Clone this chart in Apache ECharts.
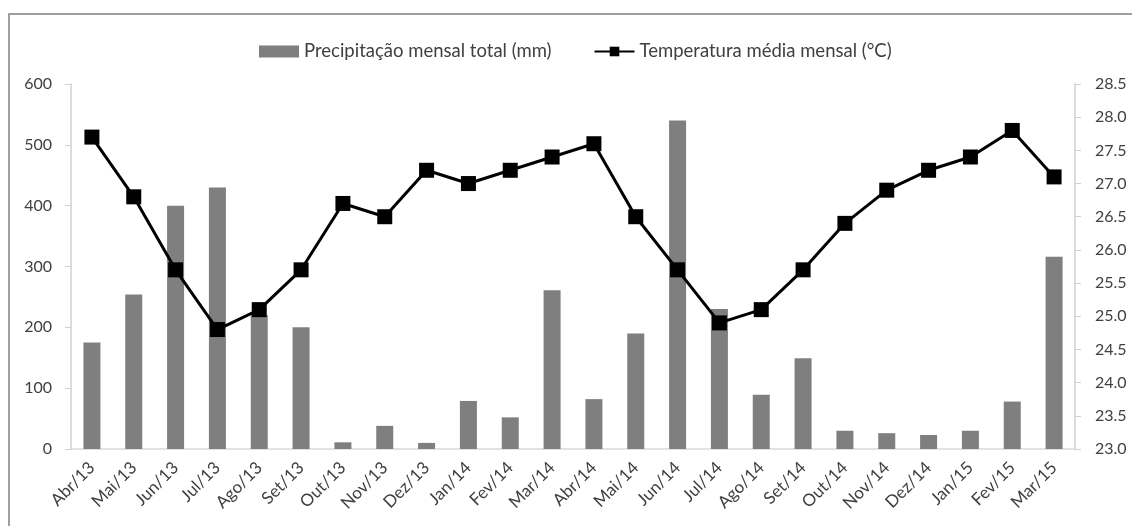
<!DOCTYPE html>
<html>
<head>
<meta charset="utf-8">
<script src="https://cdn.jsdelivr.net/npm/echarts@6/dist/echarts.min.js"></script>
<style>
  html, body { margin: 0; padding: 0; background: #fff; }
  #chart { width: 1132px; height: 526px; }
</style>
</head>
<body>
<div id="chart"></div>
<script>
const months = ['Abr/13', 'Mai/13', 'Jun/13', 'Jul/13', 'Ago/13', 'Set/13', 'Out/13', 'Nov/13', 'Dez/13',
    'Jan/14', 'Fev/14', 'Mar/14', 'Abr/14', 'Mai/14', 'Jun/14', 'Jul/14', 'Ago/14', 'Set/14', 'Out/14',
    'Nov/14', 'Dez/14', 'Jan/15', 'Fev/15', 'Mar/15'];

// precipitação mensal total (mm)
const precip = [175, 254, 400, 430, 220, 200, 11, 38, 10, 79, 52, 261, 82, 190, 540, 230, 89, 149, 30, 26, 23, 30, 78, 316];

// temperatura média mensal (°C)
const temp = [27.7, 26.8, 25.7, 24.8, 25.1, 25.7, 26.7, 26.5, 27.2, 27.0, 27.2, 27.4, 27.6, 26.5, 25.7, 24.9, 25.1, 25.7,
    26.4, 26.9, 27.2, 27.4, 27.8, 27.1];

const chart = echarts.init(document.getElementById('chart'));

const labelFont = {
    color: '#404040',
    fontFamily: 'Lato',
    fontSize: 16
};

const option = {
    animation: false,
    textStyle: { fontFamily: 'Lato' },
    graphic: [
        {
            type: 'rect',
            shape: { x: 9, y: 14, width: 1140, height: 530 },
            style: { fill: 'none', stroke: '#808080', lineWidth: 1.5 }
        }
    ],
    legend: {
        top: 37,
        left: 254,
        itemGap: 42,
        itemWidth: 40,
        itemHeight: 12,
        textStyle: { fontSize: 18.5, color: '#404040', fontFamily: 'Lato' },
        data: [
            { name: 'Precipitação mensal total (mm)', icon: 'rect', itemStyle: { color: '#7f7f7f' } },
            { name: 'Temperatura média mensal (°C)' }
        ]
    },
    grid: { left: 71, right: 57, top: 84, bottom: 77 },
    xAxis: {
        type: 'category',
        data: months,
        axisLine: { lineStyle: { color: '#d9d9d9', width: 1.5 } },
        axisTick: { show: false },
        axisLabel: Object.assign({}, labelFont, { rotate: 45, margin: 16, interval: 0, fontSize: 17 })
    },
    yAxis: [
        {
            type: 'value',
            min: 0,
            max: 600,
            interval: 100,
            axisLine: { show: true, lineStyle: { color: '#d0d0d0', width: 1.5 } },
            axisTick: { show: true, length: 6, lineStyle: { color: '#d0d0d0' } },
            splitLine: { show: false },
            axisLabel: Object.assign({ margin: 19 }, labelFont)
        },
        {
            type: 'value',
            min: 23,
            max: 28.5,
            interval: 0.5,
            position: 'right',
            axisLine: { show: true, lineStyle: { color: '#d0d0d0', width: 1.5 } },
            axisTick: { show: true, length: 6, lineStyle: { color: '#d0d0d0' } },
            splitLine: { show: false },
            axisLabel: Object.assign({ margin: 20, formatter: v => v.toFixed(1) }, labelFont)
        }
    ],
    series: [
        {
            name: 'Precipitação mensal total (mm)',
            type: 'bar',
            data: precip,
            barWidth: 17,
            itemStyle: { color: '#7f7f7f' }
        },
        {
            name: 'Temperatura média mensal (°C)',
            type: 'line',
            yAxisIndex: 1,
            data: temp,
            symbol: 'rect',
            symbolSize: 15,
            lineStyle: { color: '#000', width: 3 },
            itemStyle: { color: '#000' }
        }
    ]
};

chart.setOption(option);
</script>
</body>
</html>
